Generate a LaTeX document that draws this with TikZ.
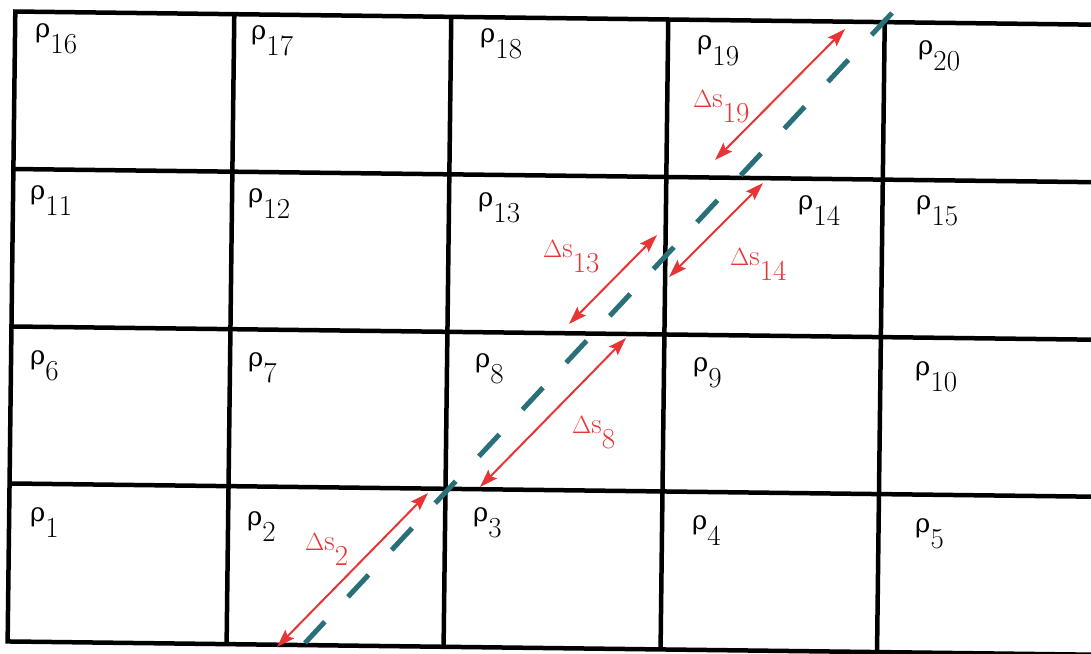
\documentclass[tikz,border=0pt]{standalone}
\usepackage{fontspec}
\newfontfamily\grk{DejaVu Serif}
\usetikzlibrary{arrows.meta}
\definecolor{raycol}{RGB}{42,112,120}
\definecolor{arrred}{RGB}{232,52,52}
\newcommand\lowsub[1]{\raisebox{-16pt}{#1}}
\newcommand\lowsubr[1]{\raisebox{-15pt}{#1}}
\newcommand\rhochar{{\grk\fontsize{26}{30}\selectfont ρ}}
\tikzset{
  gridline/.style={line width=4.5pt, black, line cap=square, line join=miter},
  rho/.style={anchor=base west, inner sep=0pt, font=\fontsize{29}{35}\selectfont},
  dslab/.style={anchor=base west, inner sep=0pt, text=arrred, font=\fontsize{29}{35}\selectfont},
  ray/.style={line width=5pt, raycol, dash pattern=on 30pt off 34pt},
  seg/.style={line width=2pt, arrred, {Stealth[length=18pt,width=12pt,inset=3pt]}-{Stealth[length=18pt,width=12pt,inset=3pt]}}
}
\begin{document}
\begin{tikzpicture}[x=1pt,y=-1pt]
\useasboundingbox (0,0) rectangle (1091,653);
\fill[white] (0,0) rectangle (1091,653);
\clip (0,0) rectangle (1091,653);
% grid (slightly rotated, as in the scan)
\begin{scope}[rotate around={-0.7:(545,326)}]
  \draw[gridline] (1120,18) -- (11.5,18) -- (11.5,648) -- (1120,648);
  \foreach \yy in {175.5,333,490} \draw[gridline] (11.5,\yy) -- (1120,\yy);
  \foreach \xx in {230.5,447.5,664.5,881} \draw[gridline] (\xx,18) -- (\xx,648);
\end{scope}
% cell labels
\node[rho] (r16) at (35,37) {\rhochar\lowsub{16}};
\node[rho] (r17) at (251,39) {\rhochar\lowsub{17}};
\node[rho] (r18) at (480,42) {\rhochar\lowsub{18}};
\node[rho] (r19) at (697,49) {\rhochar\lowsub{19}};
\node[rho] (r20) at (918,54) {\rhochar\lowsub{20}};
\node[rho] (r11) at (30,199) {\rhochar\lowsub{11}};
\node[rho] (r12) at (248,202) {\rhochar\lowsub{12}};
\node[rho] (r13) at (478,206) {\rhochar\lowsub{13}};
\node[rho] (r14) at (798,209) {\rhochar\lowsub{14}};
\node[rho] (r15) at (916,209) {\rhochar\lowsub{15}};
\node[rho] (r6) at (30,364) {\rhochar\lowsub{6}};
\node[rho] (r7) at (248,366) {\rhochar\lowsub{7}};
\node[rho] (r8) at (475,367) {\rhochar\lowsub{8}};
\node[rho] (r9) at (693,371) {\rhochar\lowsub{9}};
\node[rho] (r10) at (915,375) {\rhochar\lowsub{10}};
\node[rho] (r1) at (30,521) {\rhochar\lowsub{1}};
\node[rho] (r2) at (247,525) {\rhochar\lowsub{2}};
\node[rho] (r3) at (473,521) {\rhochar\lowsub{3}};
\node[rho] (r4) at (692,529) {\rhochar\lowsub{4}};
\node[rho] (r5) at (915,532) {\rhochar\lowsub{5}};
% ray path
\coordinate (raytop) at (892,13);
\coordinate (raybot) at (305,643);
\draw[ray] (raytop) -- (raybot);
% path-length arrows
\coordinate (a19t) at (845,29);  \coordinate (a19b) at (715,160);
\coordinate (a14t) at (763,183); \coordinate (a14b) at (669,277);
\coordinate (a13t) at (657,235); \coordinate (a13b) at (569,324);
\coordinate (a8t) at (626,338);  \coordinate (a8b) at (480,487);
\coordinate (a2t) at (428,493);  \coordinate (a2b) at (277,647);
\draw[seg] (a19b) -- (a19t);
\draw[seg] (a14b) -- (a14t);
\draw[seg] (a13b) -- (a13t);
\draw[seg] (a8b) -- (a8t);
\draw[seg] (a2b) -- (a2t);
\node[dslab] (d19) at (693,107) {$\Delta$s\lowsubr{19}};
\node[dslab] (d13) at (543,257) {$\Delta$s\lowsubr{13}};
\node[dslab] (d14) at (730,265) {$\Delta$s\lowsubr{14}};
\node[dslab] (d8) at (572,433) {$\Delta$s\lowsubr{8}};
\node[dslab] (d2) at (305,550) {$\Delta$s\lowsubr{2}};
\end{tikzpicture}
\end{document}
